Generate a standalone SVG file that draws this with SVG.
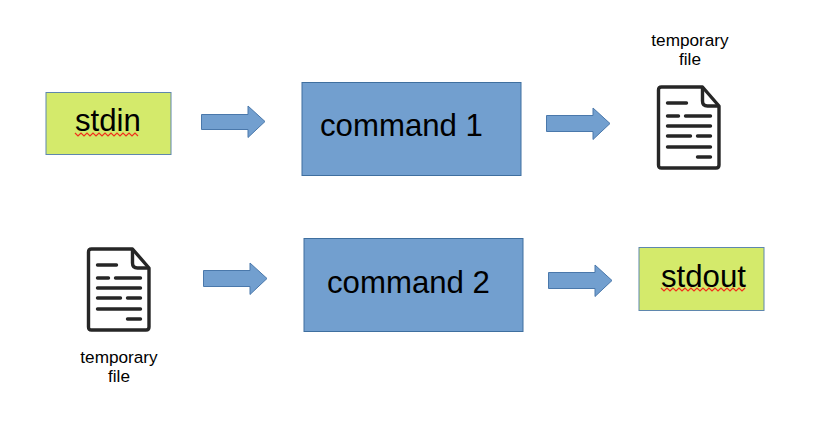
<svg xmlns="http://www.w3.org/2000/svg" xmlns:xlink="http://www.w3.org/1999/xlink" width="815" height="426" viewBox="0 0 815 426">
<style>
text{font-family:"Liberation Sans",Arial,sans-serif;fill:#000}
.big{font-size:31.2px}
.small{font-size:17.2px;text-anchor:middle}
.y{fill:#d4ea6b;stroke:#5f87ad;stroke-width:1}
.b{fill:#729fcf;stroke:#3f6f9f;stroke-width:1}
.a{fill:#729fcf;stroke:#4a78ab;stroke-width:1}
.w{fill:none;stroke:#f0301c;stroke-width:1.2}
.d{fill:none;stroke:#262626;stroke-width:3.4;stroke-linejoin:round}
.l{fill:none;stroke:#262626;stroke-width:3.4;stroke-linecap:round}
</style>
<defs>
<g id="doc">
<path class="d" d="M3 0H44L60.500 19V78Q60.500 81 57.500 81H3Q0 81 0 78V3Q0 0 3 0Z"/>
<path class="d" d="M44 0V14Q44 19 49 19H60.500"/>
<path class="l" d="M9 16H28M9 29H20M27 29H52M9 39H52M9 49H32M39 49H52M9 60H52M39 70H52"/>
</g>
</defs>
<g id="connectors">
<path class="a" d="M201.500 114.500H248V106L265 121.500L248 137.500V129.500H201.500Z"/>
<path class="a" d="M546.500 115.500H593V108L610 123.500L593 139.500V131.500H546.500Z"/>
<path class="a" d="M203.500 270.500H250V263L267 278.500L250 294.500V286.500H203.500Z"/>
<path class="a" d="M548.500 272.500H595V265L612 280.500L595 296.500V288.500H548.500Z"/>
</g>
<g id="stdin">
<rect class="y" x="46" y="92.500" width="125" height="62"/>
<text class="big" x="75" y="131">stdin</text>
<path class="w" d="M75 133l3 3 3-3 3 3 3-3 3 3 3-3 3 3 3-3 3 3 3-3 3 3 3-3 3 3 3-3 3 3 3-3 3 3 3-3 3 3 3-3 3 3"/>
</g>
<g id="command1">
<rect class="b" x="302" y="82.500" width="219" height="93"/>
<text class="big" x="320" y="136">command 1</text>
</g>
<g id="tempfile1">
<text class="small" x="690" y="46">temporary</text>
<text class="small" x="690" y="65">file</text>
<use xlink:href="#doc" href="#doc" x="658.500" y="87"/>
</g>
<g id="tempfile2">
<use xlink:href="#doc" href="#doc" x="88.500" y="249"/>
<text class="small" x="119" y="363">temporary</text>
<text class="small" x="119" y="382">file</text>
</g>
<g id="command2">
<rect class="b" x="304" y="238.500" width="219" height="93"/>
<text class="big" x="327" y="293">command 2</text>
</g>
<g id="stdout">
<rect class="y" x="639" y="247.500" width="125" height="63"/>
<text class="big" x="661" y="287">stdout</text>
<path class="w" d="M661 288l3 3 3-3 3 3 3-3 3 3 3-3 3 3 3-3 3 3 3-3 3 3 3-3 3 3 3-3 3 3 3-3 3 3 3-3 3 3 3-3 3 3 3-3 3 3 3-3 3 3 3-3 3 3 3-3"/>
</g>
</svg>
